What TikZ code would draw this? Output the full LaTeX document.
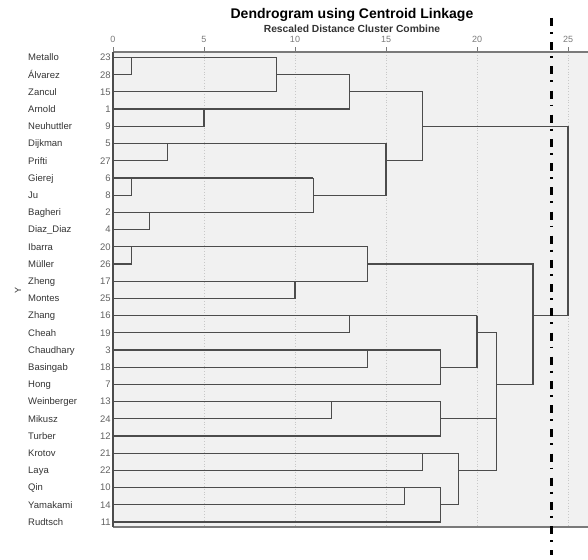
\documentclass[tikz,border=0pt]{standalone}
\usepackage{fontspec}
\setmainfont{Liberation Sans}
\definecolor{panel}{HTML}{F1F1F1}
\definecolor{treeline}{HTML}{4C4C4C}
\definecolor{gridline}{HTML}{C8C8C8}
\definecolor{axisline}{HTML}{7A7A7A}
\definecolor{labeltext}{HTML}{333333}
\begin{document}
\begin{tikzpicture}[x=18.2pt, y=-17.2pt,
  every node/.style={font=\fontsize{9.5}{11}\selectfont, text=labeltext, inner sep=0pt},
  tree/.style={treeline, line width=1.2pt, line join=miter},
  cutline/.style={black, line width=2.4pt, dash pattern=on 8pt off 6pt on 1.8pt off 8.4pt}]
  \useasboundingbox (-113pt,40.3pt) rectangle (475pt,-518.7pt);
  % panel and scale
  \fill[panel] (0,0.68) rectangle (26.1,28.3);
  \foreach \t in {5,10,...,25}
    \draw[gridline, dotted, line width=0.8pt] (\t,0.68) -- (\t,28.3);
  \draw[axisline, line width=1.2pt] (0,0.68) -- (26.1,0.68);
  \draw[axisline, line width=1.2pt] (0,28.3) -- (26.1,28.3);
  \foreach \t in {0,5,...,25} {
    \draw[axisline, line width=1pt] (\t,0.39) -- (\t,0.68);
    \node[font=\fontsize{9}{10}\selectfont, text=axisline] (tick\t) at (\t,-0.04) {\t};
  }
  \node[font=\bfseries\fontsize{14}{16}\selectfont, text=black] (title) at (13.13,-1.47) {Dendrogram using Centroid Linkage};
  \node[font=\bfseries\fontsize{10.3}{12}\selectfont] (subtitle) at (13.13,-0.66) {Rescaled Distance Cluster Combine};
  \node[font=\fontsize{9}{10}\selectfont, rotate=90] (ylab) at (-5.22,14.52) {Y};
  % cases
  \foreach \nm/\k [count=\i] in {Metallo/23, Álvarez/28, Zancul/15, Arnold/1, Neuhuttler/9,
      Dijkman/5, Prifti/27, Gierej/6, Ju/8, Bagheri/2, Diaz\_Diaz/4, Ibarra/20, Müller/26,
      Zheng/17, Montes/25, Zhang/16, Cheah/19, Chaudhary/3, Basingab/18, Hong/7,
      Weinberger/13, Mikusz/24, Turber/12, Krotov/21, Laya/22, Qin/10, Yamakami/14, Rudtsch/11} {
    \node[anchor=base west, yshift=-3.4pt] (n\i) at (-4.67,\i) {\nm};
    \node[anchor=base east, yshift=-3.4pt, text=axisline!80!black] (k\i) at (-0.12,\i) {\k};
  }
  % first branch
  \draw[tree] (0,2) -- (1,2) -- (1,1);
  \draw[tree] (0,1) -- (9,1);
  \draw[tree] (0,3) -- (9,3) -- (9,1);
  \draw[tree] (0,5) -- (5,5) -- (5,4);
  \draw[tree] (0,4) -- (13,4);
  \draw[tree] (9,2) -- (13,2) -- (13,4);
  \draw[tree] (0,7) -- (3,7) -- (3,6);
  \draw[tree] (0,6) -- (15,6);
  \draw[tree] (0,9) -- (1,9) -- (1,8);
  \draw[tree] (0,8) -- (11,8);
  \draw[tree] (0,11) -- (2,11) -- (2,10);
  \draw[tree] (0,10) -- (11,10) -- (11,8);
  \draw[tree] (11,9) -- (15,9) -- (15,6);
  \draw[tree] (13,3) -- (17,3) -- (17,7) -- (15,7);
  % second branch
  \draw[tree] (0,13) -- (1,13) -- (1,12);
  \draw[tree] (0,12) -- (14,12);
  \draw[tree] (0,15) -- (10,15) -- (10,14);
  \draw[tree] (0,14) -- (14,14) -- (14,12);
  \draw[tree] (0,17) -- (13,17) -- (13,16);
  \draw[tree] (0,16) -- (20,16);
  \draw[tree] (0,19) -- (14,19) -- (14,18);
  \draw[tree] (0,18) -- (18,18);
  \draw[tree] (0,20) -- (18,20) -- (18,18);
  \draw[tree] (18,19) -- (20,19) -- (20,16);
  \draw[tree] (0,22) -- (12,22) -- (12,21);
  \draw[tree] (0,21) -- (18,21);
  \draw[tree] (0,23) -- (18,23) -- (18,21);
  \draw[tree] (0,25) -- (17,25) -- (17,24);
  \draw[tree] (0,24) -- (19,24);
  \draw[tree] (0,27) -- (16,27) -- (16,26);
  \draw[tree] (0,26) -- (18,26);
  \draw[tree] (0,28) -- (18,28) -- (18,26);
  \draw[tree] (18,27) -- (19,27) -- (19,24);
  \draw[tree] (20,17) -- (21.08,17) -- (21.08,25) -- (19,25);
  \draw[tree] (18,22) -- (21.08,22);
  \draw[tree] (14,13) -- (23.08,13) -- (23.08,20) -- (21.08,20);
  \draw[tree] (17,5) -- (25,5) -- (25,16) -- (23.08,16);
  \draw[treeline, line width=2pt] (0,0.68) -- (0,28.3);
  % cut level
  \draw[cutline] (24.1,-1.3) -- (24.1,29.92);
\end{tikzpicture}
\end{document}
